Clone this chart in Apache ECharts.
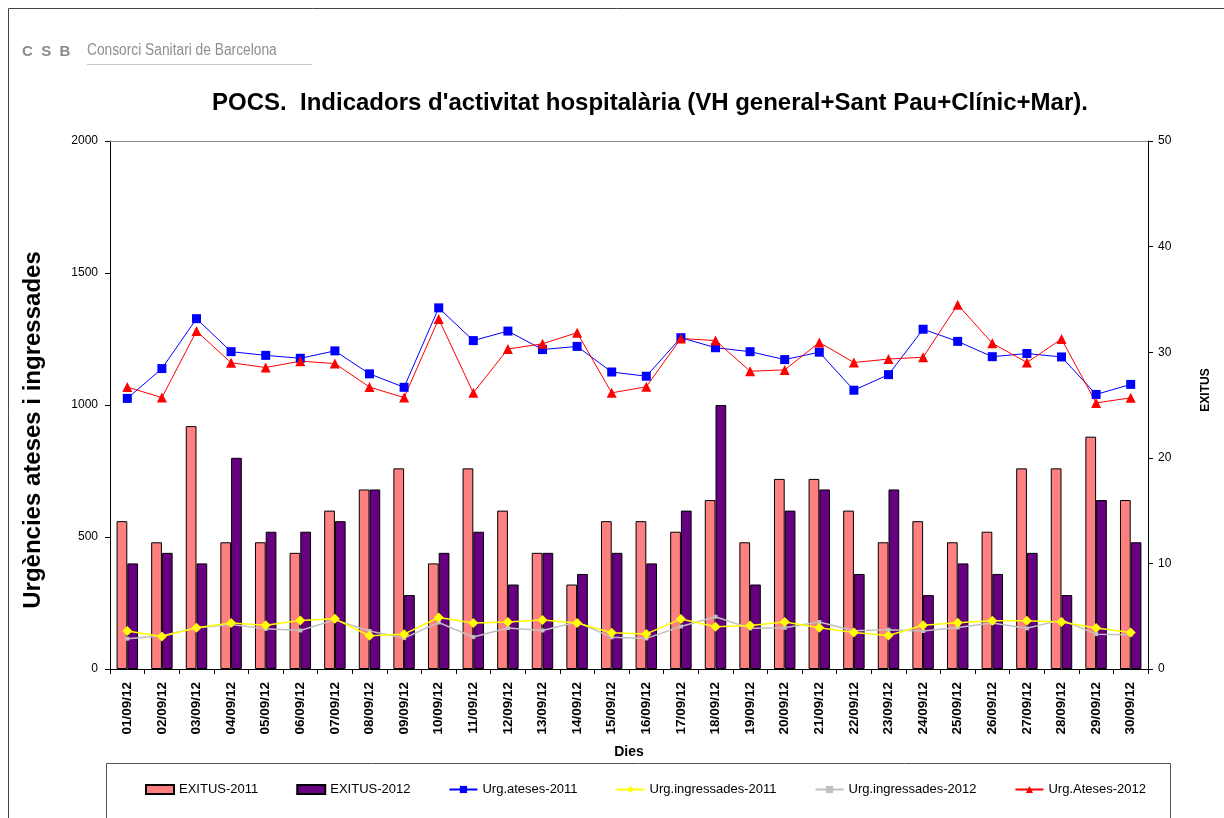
<!DOCTYPE html>
<html>
<head>
<meta charset="utf-8">
<title>POCS</title>
<style>
  html, body { margin: 0; padding: 0; background: #fff; }
  #chart { width: 1224px; height: 818px; }
</style>
</head>
<body>
<div id="chart"></div>
<script src="https://cdn.jsdelivr.net/npm/echarts@6/dist/echarts.min.js"></script>
<script>
  // dies del mes
  var dies = ['01/09/12', '02/09/12', '03/09/12', '04/09/12', '05/09/12', '06/09/12', '07/09/12', '08/09/12', '09/09/12', '10/09/12',
    '11/09/12', '12/09/12', '13/09/12', '14/09/12', '15/09/12', '16/09/12', '17/09/12', '18/09/12', '19/09/12', '20/09/12',
    '21/09/12', '22/09/12', '23/09/12', '24/09/12', '25/09/12', '26/09/12', '27/09/12', '28/09/12', '29/09/12', '30/09/12'];

  // exitus (eix dret)
  var exitus2011 = [14, 12, 23, 12, 12, 11, 15, 17, 19, 10, 19, 15, 11, 8, 14, 14, 13, 16, 12, 18, 18, 15, 12, 14, 12, 13, 19, 19, 22, 16];
  var exitus2012 = [10, 11, 10, 20, 13, 13, 14, 17, 7, 11, 13, 8, 11, 9, 11, 10, 15, 25, 8, 15, 17, 9, 17, 7, 10, 9, 11, 7, 16, 12];

  // urgencies (eix esquerre)
  var ateses2011 = [1025, 1138, 1327, 1202, 1188, 1177, 1205, 1118, 1067, 1368, 1244, 1280, 1210, 1222, 1125, 1109, 1255, 1217, 1202, 1172,
    1200, 1056, 1115, 1287, 1241, 1183, 1195, 1182, 1040, 1078];
  var ingres2011 = [144, 123, 156, 174, 166, 184, 190, 126, 132, 195, 174, 178, 186, 174, 137, 133, 189, 160, 165, 178,
    156, 138, 127, 166, 175, 183, 183, 178, 155, 138];
  var ingres2012 = [115, 126, 156, 169, 152, 146, 186, 144, 117, 176, 121, 155, 146, 178, 120, 116, 161, 198, 154, 156,
    178, 145, 149, 144, 157, 174, 154, 186, 132, 130];
  var ateses2012 = [1068, 1028, 1280, 1160, 1142, 1166, 1157, 1068, 1028, 1326, 1046, 1212, 1232, 1274, 1046, 1069, 1252, 1244, 1128, 1133,
    1237, 1161, 1174, 1181, 1380, 1234, 1161, 1250, 1008, 1027];

  var font = 'Arial, "Liberation Sans", sans-serif';

  var chart = echarts.init(document.getElementById('chart'));
  var option = {
    backgroundColor: '#fff',
    animation: false,
    textStyle: { fontFamily: font, color: '#000' },
    title: {
      text: "POCS.  Indicadors d'activitat hospitalària (VH general+Sant Pau+Clínic+Mar).",
      left: 207,
      top: 86,
      textStyle: { fontSize: 24, fontWeight: 'bold', color: '#000', fontFamily: font }
    },
    graphic: [
      // marc exterior
      { type: 'rect', shape: { x: 8.5, y: 8.5, width: 1240, height: 840 }, style: { fill: null, stroke: '#444', lineWidth: 1 } },
      // logotip
      { type: 'text', x: 22, y: 44, style: { text: 'C  S  B', font: 'bold 15px ' + font, fill: '#8a8a8a' } },
      { type: 'text', x: 87, y: 43, scaleX: 0.86, style: { text: 'Consorci Sanitari de Barcelona', font: '16px ' + font, fill: '#8f8f8f' } },
      { type: 'line', shape: { x1: 87, y1: 64.5, x2: 312, y2: 64.5 }, style: { stroke: '#c8c8c8', lineWidth: 1 } },
      // vora superior de l'area de dibuix
      { type: 'line', shape: { x1: 110, y1: 141.5, x2: 1148, y2: 141.5 }, style: { stroke: '#888', lineWidth: 1 }, z: 10 },
      // noms dels eixos
      { type: 'text', x: 33, y: 430, rotation: Math.PI / 2,
        style: { text: 'Urgències ateses i ingressades', font: 'bold 24px ' + font, fill: '#000', align: 'center', verticalAlign: 'middle' } },
      { type: 'text', x: 1206, y: 390, rotation: Math.PI / 2,
        style: { text: 'EXITUS', font: 'bold 12px ' + font, fill: '#000', align: 'center', verticalAlign: 'middle' } },
      // caixa de la llegenda
      { type: 'rect', shape: { x: 106.5, y: 763.5, width: 1064, height: 70 }, style: { fill: null, stroke: '#555', lineWidth: 1 } }
    ],
    legend: {
      bottom: 17,
      left: 140,
      itemGap: 38,
      itemWidth: 28,
      itemHeight: 9,
      textStyle: { fontSize: 13, fontFamily: font, color: '#000' },
      data: [
        { name: 'EXITUS-2011', icon: 'rect' },
        { name: 'EXITUS-2012', icon: 'rect' },
        'Urg.ateses-2011', 'Urg.ingressades-2011', 'Urg.ingressades-2012', 'Urg.Ateses-2012'
      ]
    },
    grid: { left: 110, right: 76, top: 141, bottom: 149 },
    xAxis: {
      type: 'category',
      data: dies,
      name: 'Dies',
      nameLocation: 'middle',
      nameGap: 76,
      nameTextStyle: { fontSize: 14, fontWeight: 'bold', color: '#000' },
      axisLine: { lineStyle: { color: '#000', width: 1 } },
      axisTick: { show: true, length: 5, lineStyle: { color: '#000' } },
      axisLabel: { rotate: 90, fontSize: 13.5, fontWeight: 'bold', color: '#000', margin: 13, interval: 0 }
    },
    yAxis: [
      {
        type: 'value',
        min: 0, max: 2000, interval: 500,
        axisLine: { show: true, lineStyle: { color: '#000', width: 1 } },
        axisTick: { show: true, length: 5, lineStyle: { color: '#000' } },
        axisLabel: { fontSize: 12, color: '#000', margin: 12, formatter: function (v) { return String(v); } },
        splitLine: { show: false }
      },
      {
        type: 'value',
        min: 0, max: 50, interval: 10,
        axisLine: { show: true, lineStyle: { color: '#000', width: 1 } },
        axisTick: { show: true, length: 5, lineStyle: { color: '#000' } },
        axisLabel: { fontSize: 12, color: '#000', margin: 10 },
        splitLine: { show: false }
      }
    ],
    series: [
      {
        name: 'EXITUS-2011', type: 'bar', yAxisIndex: 1, data: exitus2011,
        barGap: '0%', barCategoryGap: '38%',
        itemStyle: { color: '#FF8080', borderColor: '#000', borderWidth: 1 }
      },
      {
        name: 'EXITUS-2012', type: 'bar', yAxisIndex: 1, data: exitus2012,
        barGap: '0%', barCategoryGap: '38%',
        itemStyle: { color: '#660080', borderColor: '#000', borderWidth: 1 }
      },
      {
        name: 'Urg.ateses-2011', type: 'line', yAxisIndex: 0, data: ateses2011,
        symbol: 'rect', symbolSize: 9, z: 5,
        lineStyle: { color: '#0000FF', width: 1 },
        itemStyle: { color: '#0000FF' }
      },
      {
        name: 'Urg.ingressades-2011', type: 'line', yAxisIndex: 0, data: ingres2011,
        symbol: 'diamond', symbolSize: 10, z: 5,
        lineStyle: { color: '#FFFF00', width: 1.5 },
        itemStyle: { color: '#FFFF00' }
      },
      {
        name: 'Urg.ingressades-2012', type: 'line', yAxisIndex: 0, data: ingres2012,
        symbol: 'rect', symbolSize: 4, z: 4,
        lineStyle: { color: '#C0C0C0', width: 1.5 },
        itemStyle: { color: '#C0C0C0' }
      },
      {
        name: 'Urg.Ateses-2012', type: 'line', yAxisIndex: 0, data: ateses2012,
        symbol: 'triangle', symbolSize: 10, z: 5,
        lineStyle: { color: '#FF0000', width: 1 },
        itemStyle: { color: '#FF0000' }
      }
    ]
  };
  chart.setOption(option);
</script>
</body>
</html>
